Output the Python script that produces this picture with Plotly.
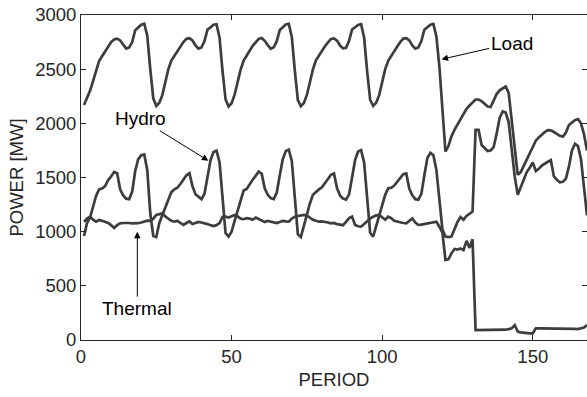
import plotly.graph_objects as go

periods = list(range(1, 169))

load = [
    # day 1
    2170, 2230, 2300, 2390, 2490, 2575, 2620, 2665, 2710, 2750, 2775, 2782,
    2765, 2725, 2690, 2700, 2750, 2860, 2885, 2910, 2920, 2810, 2500, 2230,
    # day 2
    2160, 2190, 2260, 2390, 2500, 2580, 2625, 2670, 2710, 2750, 2780, 2785,
    2765, 2720, 2690, 2700, 2760, 2865, 2885, 2910, 2915, 2790, 2480, 2220,
    # day 3
    2155, 2185, 2265, 2385, 2495, 2580, 2630, 2670, 2715, 2752, 2780, 2788,
    2762, 2722, 2688, 2702, 2758, 2862, 2888, 2912, 2918, 2795, 2485, 2215,
    # day 4
    2158, 2188, 2262, 2392, 2498, 2582, 2628, 2668, 2712, 2748, 2778, 2784,
    2764, 2718, 2692, 2698, 2762, 2866, 2884, 2908, 2916, 2792, 2482, 2218,
    # day 5
    2160, 2190, 2260, 2388, 2500, 2578, 2626, 2672, 2710, 2750, 2782, 2786,
    2766, 2720, 2690, 2700, 2760, 2864, 2886, 2910, 2918, 2800, 2520, 2100,
    # day 6
    1740, 1790, 1880, 1940, 1990, 2045, 2095, 2135, 2165, 2195, 2220, 2220,
    2205, 2180, 2155, 2150, 2205, 2270, 2305, 2325, 2340, 2280, 2030, 1720,
    # day 7
    1525, 1550, 1610, 1670, 1730, 1790, 1840, 1870, 1900, 1920, 1938, 1935,
    1920, 1900, 1885, 1877, 1915, 1985, 2010, 2030, 2040, 2000, 1900, 1750,
]

hydro = [
    # day 1
    960, 1080, 1130, 1240, 1330, 1390, 1398, 1420, 1475, 1510, 1552, 1540,
    1390, 1335, 1305, 1300, 1370, 1560, 1670, 1705, 1712, 1570, 1170, 960,
    # day 2
    950, 1080, 1150, 1210, 1290, 1365, 1390, 1405, 1440, 1480, 1520, 1540,
    1420, 1345, 1320, 1300, 1350, 1500, 1660, 1735, 1748, 1640, 1280, 985,
    # day 3
    955, 1000, 1100, 1200, 1300, 1380, 1395, 1440, 1480, 1515, 1555, 1535,
    1400, 1340, 1310, 1300, 1360, 1520, 1670, 1745, 1758, 1650, 1290, 975,
    # day 4
    950, 1060, 1160, 1260, 1340, 1370, 1390, 1410, 1445, 1490, 1525, 1538,
    1400, 1335, 1305, 1295, 1345, 1500, 1660, 1740, 1752, 1640, 1270, 990,
    # day 5
    955, 1050, 1150, 1250, 1340, 1400, 1405, 1425, 1460, 1500, 1530, 1538,
    1395, 1335, 1300, 1295, 1350, 1520, 1680, 1728, 1705, 1570, 1270, 1020,
    # day 6
    955, 950, 955, 1020, 1090, 1135, 1110, 1145, 1165, 1185, 1940, 1940,
    1800, 1775, 1745, 1750, 1780, 1905, 2050, 2110, 2100, 2010, 1760, 1510,
    # day 7
    1340, 1410, 1490, 1550, 1590, 1640, 1560, 1580, 1610, 1630, 1645, 1660,
    1510, 1480, 1455, 1460, 1490, 1600, 1750, 1810, 1790, 1670, 1430, 1150,
]

thermal = [
    # day 1
    1092, 1120, 1138, 1110, 1092, 1108, 1100, 1092, 1080, 1060, 1035, 1060,
    1077, 1080, 1083, 1080, 1077, 1075, 1078, 1085, 1095, 1101, 1100, 1120,
    # day 2
    1154, 1165, 1169, 1140, 1123, 1100, 1092, 1100, 1080, 1062, 1080, 1095,
    1070, 1080, 1090, 1085, 1080, 1070, 1060, 1052, 1060, 1080, 1138, 1140,
    # day 3
    1130, 1145, 1154, 1140, 1120, 1115, 1125, 1120, 1110, 1130, 1115, 1100,
    1090, 1100, 1092, 1085, 1080, 1090, 1100, 1095, 1092, 1120, 1138, 1145,
    # day 4
    1150, 1154, 1150, 1130, 1110, 1100, 1092, 1095, 1092, 1085, 1077, 1080,
    1070, 1065, 1060, 1090, 1125, 1138, 1062, 1050, 1046, 1070, 1100, 1120,
    # day 5
    1138, 1150, 1154, 1130, 1110, 1138, 1125, 1100, 1092, 1085, 1080, 1077,
    1100, 1123, 1085, 1062, 1065, 1070, 1077, 1080, 1090, 1092, 1046, 990,
    # day 6
    740, 745, 800, 840, 835, 845, 830, 915, 850, 930, 92, 92,
    92, 92, 92, 92, 92, 92, 92, 92, 95, 100, 108, 138,
    # day 7
    77, 70, 65, 62, 62, 62, 108, 108, 108, 108, 108, 108,
    108, 106, 106, 105, 105, 104, 104, 102, 100, 105, 115, 138,
]

x_ticks = [0, 50, 100, 150]
y_ticks = [0, 500, 1000, 1500, 2000, 2500, 3000]

LINE = "#3d3d3d"
AX = "#262626"
FONT = "Liberation Sans, Arial, sans-serif"

fig = go.Figure()
for name, vals in [("Load", load), ("Hydro", hydro), ("Thermal", thermal)]:
    fig.add_trace(go.Scatter(x=periods, y=vals, mode="lines", name=name,
                             line=dict(color=LINE, width=2.7),
                             showlegend=False, hoverinfo="skip"))

ann_font = dict(family=FONT, size=19, color="#000000")
fig.add_annotation(x=119.7, y=2591, text="Load", ax=70, ay=-16,
                   showarrow=True, arrowhead=2, arrowsize=1.3, arrowwidth=1,
                   arrowcolor="#000000", font=ann_font)
fig.add_annotation(x=42.3, y=1655, text="Hydro", ax=-68, ay=-42,
                   showarrow=True, arrowhead=2, arrowsize=1.3, arrowwidth=1,
                   arrowcolor="#000000", font=ann_font)
fig.add_annotation(x=18.7, y=1000, text="Thermal", ax=0, ay=77,
                   showarrow=True, arrowhead=2, arrowsize=1.3, arrowwidth=1,
                   arrowcolor="#000000", font=ann_font)

fig.update_layout(
    width=587, height=397,
    margin=dict(l=81, r=0, t=15, b=57),
    paper_bgcolor="white", plot_bgcolor="white",
    font=dict(family=FONT, size=18.5, color=AX),
)
fig.update_xaxes(range=[0, 168], tickvals=x_ticks, ticks="inside", ticklen=5,
                 tickcolor=AX, showline=True, linecolor=AX, linewidth=1,
                 mirror="ticks", showgrid=False, zeroline=False,
                 title=dict(text="PERIOD", standoff=6, font=dict(size=18.5)),
                 tickfont=dict(size=18.5))
fig.update_yaxes(range=[0, 3000], tickvals=y_ticks, ticks="inside", ticklen=5,
                 tickcolor=AX, showline=True, linecolor=AX, linewidth=1,
                 mirror="ticks", showgrid=False, zeroline=False,
                 title=dict(text="POWER [MW]", standoff=6, font=dict(size=18.5)),
                 tickfont=dict(size=18.5))

fig.write_html("out.html")
